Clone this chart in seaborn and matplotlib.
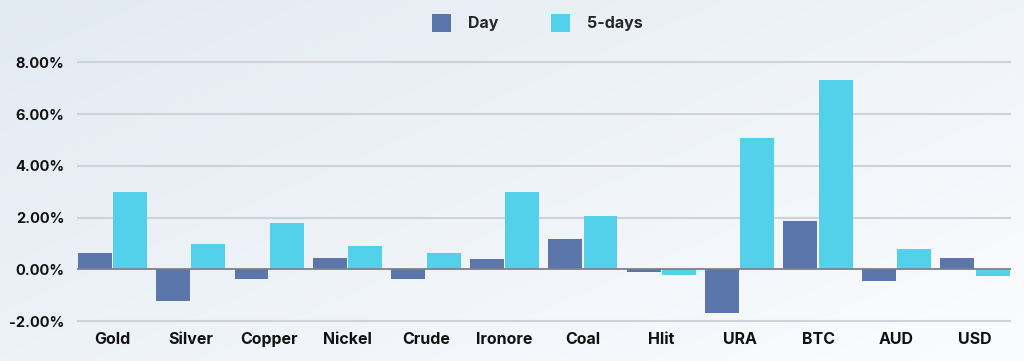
import numpy as np
import pandas as pd
import matplotlib
matplotlib.use("Agg")
import matplotlib.pyplot as plt
import seaborn as sns
from matplotlib.ticker import FuncFormatter, MultipleLocator

categories = ["Gold", "Silver", "Copper", "Nickel", "Crude", "Ironore", "Coal",
              "Hlit", "URA", "BTC", "AUD", "USD"]
day = [0.62, -1.20, -0.35, 0.43, -0.35, 0.40, 1.19, -0.10, -1.69, 1.87, -0.45, 0.45]
five_days = [2.98, 1.00, 1.78, 0.90, 0.62, 2.98, 2.08, -0.23, 5.10, 7.33, 0.78, -0.26]
series_names = ["Day", "5-days"]
colors = ["#5a76ab", "#53d1ea"]

df = pd.DataFrame({
    "cat": categories * 2,
    "val": day + five_days,
    "series": [series_names[0]] * len(categories) + [series_names[1]] * len(categories),
})

sns.set_theme(style="white")
plt.rcParams["font.family"] = ["Inter", "DejaVu Sans"]

fig = plt.figure(figsize=(10.24, 3.61), dpi=100)
# background gradient
bg = fig.add_axes([0, 0, 1, 1], zorder=-10)
xx = np.linspace(0, 1, 256)
yy = np.linspace(0, 1, 128)
X, Y = np.meshgrid(xx, yy)
G = np.clip(0.55 * (1 - X) + 0.45 * Y, 0, 1)
c1 = np.array([0xe2, 0xea, 0xf2]) / 255
c2 = np.array([0xfb, 0xfc, 0xfe]) / 255
img = c2[None, None, :] * (1 - G[..., None]) + c1[None, None, :] * G[..., None]
bg.imshow(img, aspect="auto", extent=[0, 1, 0, 1], origin="lower")
bg.axis("off")

ax = fig.add_axes([77 / 1024, 1 - 329 / 361, (1011 - 77) / 1024, (329 - 56) / 361])
ax.patch.set_alpha(0)
sns.barplot(data=df, x="cat", y="val", hue="series", palette=colors, ax=ax,
            width=0.9, gap=0.04, saturation=1, legend=True, zorder=3,
            linewidth=0, edgecolor="none")

ax.set_ylim(-2.3, 8.25)
ax.set_xlim(-0.45, 11.46)
ax.yaxis.set_major_locator(MultipleLocator(2))
ax.yaxis.set_major_formatter(FuncFormatter(lambda v, p: f"{v:.2f}%"))
ax.grid(axis="y", color="#cfd3d8", linewidth=1.5, zorder=0)
ax.axhline(0, color="#7a7f86", linewidth=1.2, zorder=4)
for s in ax.spines.values():
    s.set_visible(False)
ax.set_xlabel("")
ax.set_ylabel("")
ax.tick_params(axis="both", length=0, colors="#111111")
ax.tick_params(axis="y", pad=9, labelsize=10.5)
ax.tick_params(axis="x", pad=2, labelsize=11.5)
for t in ax.get_xticklabels() + ax.get_yticklabels():
    t.set_fontweight("bold")

handles, labels = ax.get_legend_handles_labels()
ax.legend(handles, labels, loc="upper center", bbox_to_anchor=(0.525, 1.0),
          bbox_transform=fig.transFigure, ncol=2, frameon=False,
          prop={"weight": "bold", "size": 11.5}, handlelength=1.15, handleheight=1.3,
          columnspacing=3.3, handletextpad=1.1, borderaxespad=0.5)

fig.savefig("out.png", dpi=100)
